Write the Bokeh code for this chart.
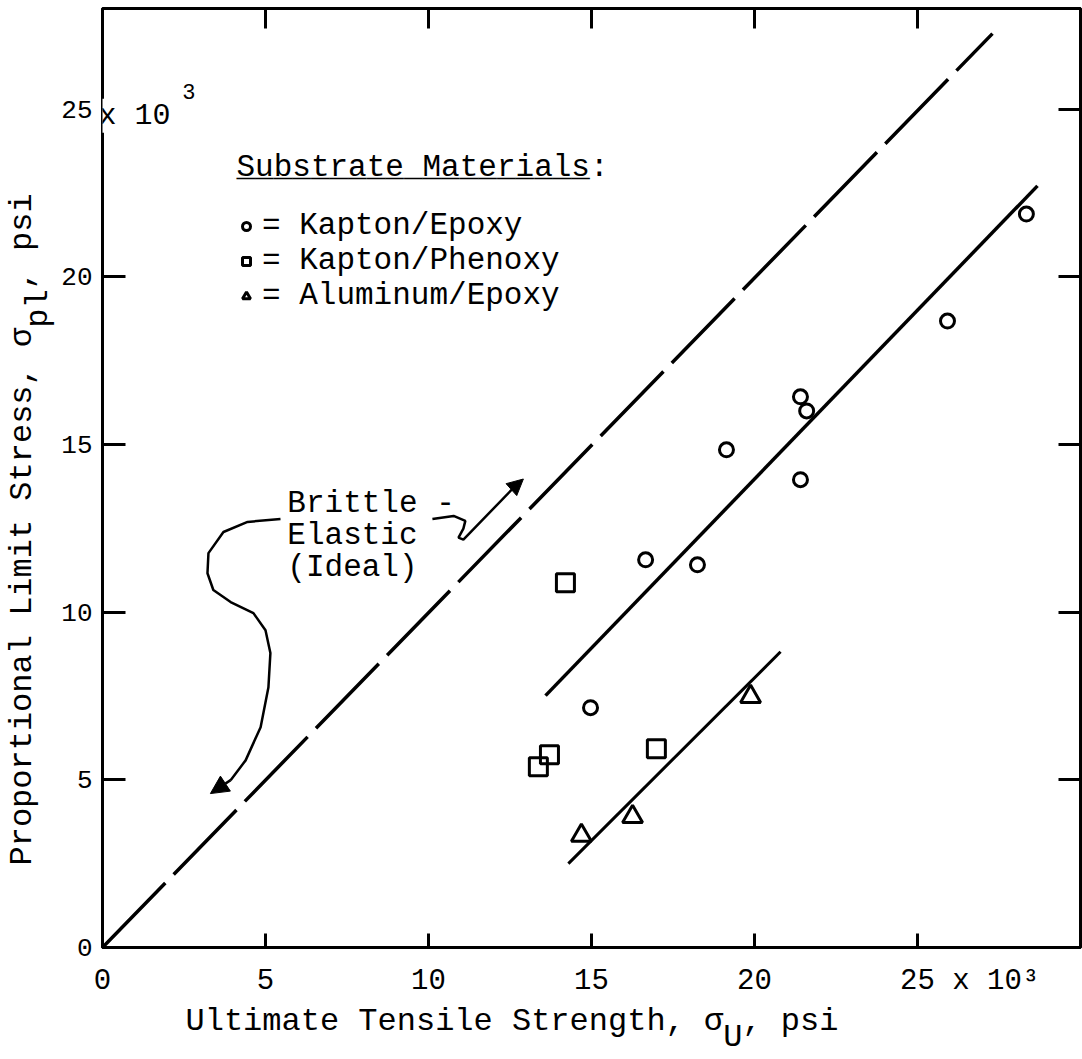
import math
from bokeh.plotting import figure
from bokeh.models import (Range1d, LinearAxis, FixedTicker, Label, Legend, LegendItem,
                          Arrow, NormalHead, Title)
from bokeh.embed import file_html
from bokeh.resources import INLINE

FONT = "Liberation Mono"
NB = "\u00a0"

# ---------------- data (x = ultimate tensile strength, y = proportional limit stress, 10^3 psi)
kapton_epoxy_x = [28.34, 25.92, 21.41, 21.60, 19.14, 21.41, 16.66, 18.25, 14.97]
kapton_epoxy_y = [21.87, 18.68, 16.42, 16.00, 14.84, 13.95, 11.56, 11.41, 7.15]
kapton_phenoxy_x = [14.20, 13.71, 13.37, 16.99]
kapton_phenoxy_y = [10.88, 5.75, 5.39, 5.93]
aluminum_epoxy_x = [19.88, 16.26, 14.69]
aluminum_epoxy_y = [7.48, 3.90, 3.34]

ideal_x = [0.0, 27.3]
ideal_y = [0.0, 27.25]
kapton_fit_x = [13.59, 28.68]
kapton_fit_y = [7.51, 22.71]
aluminum_fit_x = [14.29, 20.80]
aluminum_fit_y = [2.50, 8.82]

x_ticks = [0, 5, 10, 15, 20, 25]
y_ticks = [0, 5, 10, 15, 20, 25]

legend_labels = ["= Kapton/Epoxy", "= Kapton/Phenoxy", "= Aluminum/Epoxy"]

# annotation curves (hand-drawn arrows in the original)
left_curve_x = [5.46, 4.45, 3.71, 3.25, 3.22, 3.40, 3.93, 4.63, 5.00, 5.15, 5.09, 4.85, 4.39, 3.93]
left_curve_y = [12.78, 12.69, 12.39, 11.76, 11.16, 10.66, 10.30, 9.97, 9.46, 8.78, 7.76, 6.57, 5.58, 4.99]
right_curve_x = [10.12, 10.77, 11.13, 11.07, 10.92, 11.07, 12.61]
right_curve_y = [12.78, 12.87, 12.72, 12.49, 12.22, 12.16, 13.71]

# ---------------- figure
p = figure(width=1082, height=1059,
           x_range=Range1d(0, 30), y_range=Range1d(0, 28),
           x_axis_type=None, y_axis_type=None,
           output_backend="svg", toolbar_location=None,
           min_border_left=102, min_border_right=2, min_border_top=8, min_border_bottom=112,
           outline_line_color="black", outline_line_width=3,
           background_fill_color="white", border_fill_color="white")


def axis(ticks, tick_in, font_size, standoff):
    return LinearAxis(ticker=FixedTicker(ticks=ticks, minor_ticks=[]),
                      major_tick_in=tick_in, major_tick_out=0,
                      minor_tick_in=0, minor_tick_out=0,
                      axis_line_width=3, axis_line_color="black",
                      major_tick_line_width=3, major_tick_line_color="black",
                      major_label_text_font=FONT,
                      major_label_text_font_size=font_size,
                      major_label_text_color="black",
                      major_label_standoff=standoff)


x_axis = axis(x_ticks, 14, "29px", 17)
x_axis.major_label_overrides = {25: NB * 6 + "25 x 10³"}
p.add_layout(x_axis, "below")
p.add_layout(axis(y_ticks, 23, "26px", 10), "left")
top_ax = axis(x_ticks[1:], 20, "0px", 0)
right_ax = axis(y_ticks[1:], 22, "0px", 0)
for a in (top_ax, right_ax):
    a.major_label_text_color = None
p.add_layout(top_ax, "above")
p.add_layout(right_ax, "right")

# ---------------- axis titles (second line carries the subscript)
x_title = Title(text="Ultimate Tensile Strength, σ" + NB + ", psi\n" + NB * 28 + "U",
                align="left", offset=83, standoff=0, vertical_align="bottom",
                text_font=FONT, text_font_size="32px", text_font_style="normal",
                text_color="black", text_line_height=0.45)
p.add_layout(x_title, "below")
y_title = Title(text="Proportional Limit Stress, σ" + NB * 2 + ", psi\n" + NB * 28 + "pl",
                align="left", offset=82, standoff=0, vertical_align="middle",
                text_font=FONT, text_font_size="32px", text_font_style="normal",
                text_color="black", text_line_height=0.45)
p.add_layout(y_title, "left")

# ---------------- lines
p.line(ideal_x, ideal_y, line_color="black", line_width=3.5, line_dash="90 12")
p.line(kapton_fit_x, kapton_fit_y, line_color="black", line_width=3.5)
p.line(aluminum_fit_x, aluminum_fit_y, line_color="black", line_width=3)

# ---------------- markers
r1 = p.scatter(kapton_epoxy_x, kapton_epoxy_y, marker="circle", size=14,
               line_color="black", line_width=3, fill_color=None)
r2 = p.scatter(kapton_phenoxy_x, kapton_phenoxy_y, marker="square", size=18,
               line_color="black", line_width=3, fill_color=None)
r3 = p.scatter(aluminum_epoxy_x, aluminum_epoxy_y, marker="triangle", size=20,
               line_color="black", line_width=3, fill_color=None)

# ---------------- annotation arrows
p.line(left_curve_x, left_curve_y, line_color="black", line_width=2.5)
p.add_layout(Arrow(end=NormalHead(size=18, fill_color="black", line_color="black"),
                   x_start=left_curve_x[-1], y_start=left_curve_y[-1], x_end=3.31, y_end=4.59,
                   line_color="black", line_width=2.5))
p.line(right_curve_x, right_curve_y, line_color="black", line_width=2.5)
p.add_layout(Arrow(end=NormalHead(size=16, fill_color="black", line_color="black"),
                   x_start=right_curve_x[-1], y_start=right_curve_y[-1], x_end=12.91, y_end=13.97,
                   line_color="black", line_width=2.5))

for txt, yy in (("Brittle -", 13.25), ("Elastic", 12.30), ("(Ideal)", 11.34)):
    p.add_layout(Label(x=5.67, y=yy, text=txt, text_font=FONT, text_font_size="31px",
                       text_align="left", text_baseline="middle", text_color="black"))

# ---------------- legend
p.add_layout(Label(x=4.11, y=23.25, text="Substrate Materials:", text_font=FONT,
                   text_font_size="31px", text_align="left", text_baseline="middle",
                   text_color="black"))
p.add_layout(Label(x=4.11, y=23.25, text="___________________", text_font=FONT,
                   text_font_size="31px", text_align="left", text_baseline="middle",
                   text_color="black"))
legend = Legend(items=[LegendItem(label=legend_labels[0], renderers=[r1]),
                       LegendItem(label=legend_labels[1], renderers=[r2]),
                       LegendItem(label=legend_labels[2], renderers=[r3])],
                location=(134, 634), label_text_font=FONT, label_text_font_size="31px",
                label_text_color="black", border_line_color=None, background_fill_alpha=0,
                padding=0, spacing=0, margin=0, glyph_width=20, glyph_height=20,
                label_standoff=6)
p.add_layout(legend)

# ---------------- "x 10^3" multiplier on the left 25 tick
p.add_layout(Label(x=-0.12, y=24.80, text=" x 10", text_font=FONT, text_font_size="30px",
                   text_align="left", text_baseline="middle", background_fill_color="white",
                   text_color="black"))
p.add_layout(Label(x=2.45, y=25.52, text="3", text_font=FONT, text_font_size="22px",
                   text_align="left", text_baseline="middle", text_color="black"))

open("out.html", "w").write(file_html(p, INLINE))
